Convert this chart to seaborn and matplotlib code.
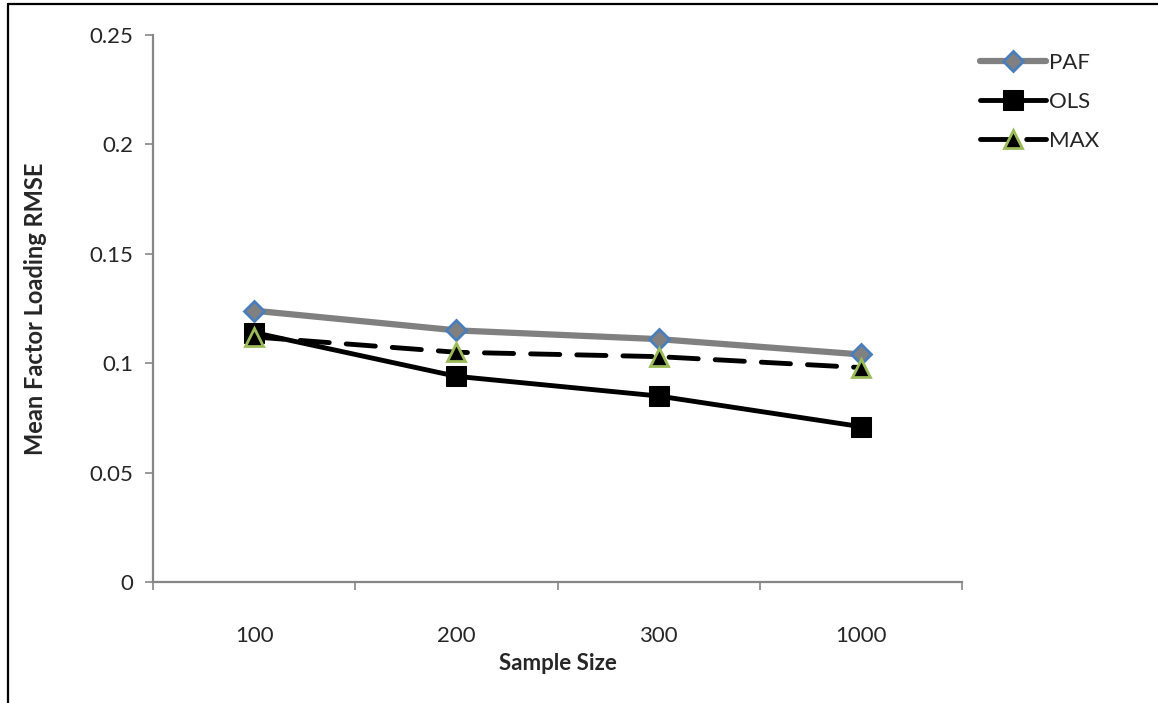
import pandas as pd
import matplotlib
matplotlib.use("Agg")
import matplotlib.pyplot as plt
import seaborn as sns
from matplotlib.lines import Line2D

# --- data ---
sample_sizes = ["100", "200", "300", "1000"]
paf = [0.124, 0.115, 0.111, 0.104]
ols = [0.114, 0.094, 0.085, 0.071]
mx = [0.112, 0.105, 0.103, 0.098]
y_ticks = [0, 0.05, 0.1, 0.15, 0.2, 0.25]
y_tick_labels = ["0", "0.05", "0.1", "0.15", "0.2", "0.25"]

sns.set_style("white")
plt.rcParams["font.family"] = ["Lato", "DejaVu Sans"]

fig = plt.figure(figsize=(11.58, 7.03), dpi=100)
ax = fig.add_axes([153 / 1158, 1 - 582 / 703, (962 - 153) / 1158, (582 - 35) / 703])

pos = list(range(len(sample_sizes)))
df = pd.DataFrame({"pos": pos, "PAF": paf, "OLS": ols, "MAX": mx})

axis_gray = "#868686"

sns.lineplot(data=df, x="pos", y="PAF", ax=ax, color="#808080", lw=4.5,
             marker="D", markersize=10, markerfacecolor="#808080",
             markeredgecolor="#4A7EBB", markeredgewidth=2, zorder=3,
             solid_capstyle="round")
sns.lineplot(data=df, x="pos", y="OLS", ax=ax, color="black", lw=3.5,
             marker="s", markersize=14, markerfacecolor="black",
             markeredgecolor="black", zorder=4, solid_capstyle="round")
sns.lineplot(data=df, x="pos", y="MAX", ax=ax, color="black", lw=3.5,
             marker="^", markersize=13, markerfacecolor="black",
             markeredgecolor="#9BBB59", markeredgewidth=2, zorder=5,
             dashes=(6, 3.5), dash_capstyle="round")

ax.set_xlim(-0.5, len(sample_sizes) - 0.5)
ax.set_ylim(0, 0.25)

# y axis
ax.set_yticks(y_ticks)
ax.set_yticklabels(y_tick_labels)
ax.tick_params(axis="y", direction="out", length=6, width=1.2, color=axis_gray,
               labelsize=16, pad=8, left=True)

# x axis: ticks at category boundaries, labels at category centres
ax.set_xticks([p - 0.5 for p in pos] + [pos[-1] + 0.5])
ax.set_xticklabels([])
ax.set_xticks(pos, minor=True)
ax.set_xticklabels(sample_sizes, minor=True)
ax.tick_params(axis="x", which="major", direction="out", length=6, width=1.2,
               color=axis_gray, bottom=True)
ax.tick_params(axis="x", which="minor", length=0, labelsize=16, pad=32)

for side in ["top", "right"]:
    ax.spines[side].set_visible(False)
for side in ["left", "bottom"]:
    ax.spines[side].set_color(axis_gray)
    ax.spines[side].set_linewidth(1.6)

ax.set_xlabel("Sample Size", fontsize=16, fontweight="bold", labelpad=5)
ax.set_ylabel("Mean Factor Loading RMSE", fontsize=17, fontweight="bold", labelpad=31)

# legend
handles = ax.get_lines()[:3]
leg = ax.legend(handles, ["PAF", "OLS", "MAX"], loc="upper left",
                bbox_to_anchor=(1.0, 1.0), frameon=False, fontsize=16,
                handlelength=3.0, handletextpad=0.1, labelspacing=0.85,
                borderaxespad=0.4)

# outer frame (left and top edges of the original picture)
fig.add_artist(Line2D([8 / 1158, 8 / 1158], [0, 1 - 4 / 703], color="black", lw=1.6))
fig.add_artist(Line2D([8 / 1158, 1], [1 - 4 / 703, 1 - 4 / 703], color="black", lw=1.6))

fig.savefig("out.png", dpi=100)
